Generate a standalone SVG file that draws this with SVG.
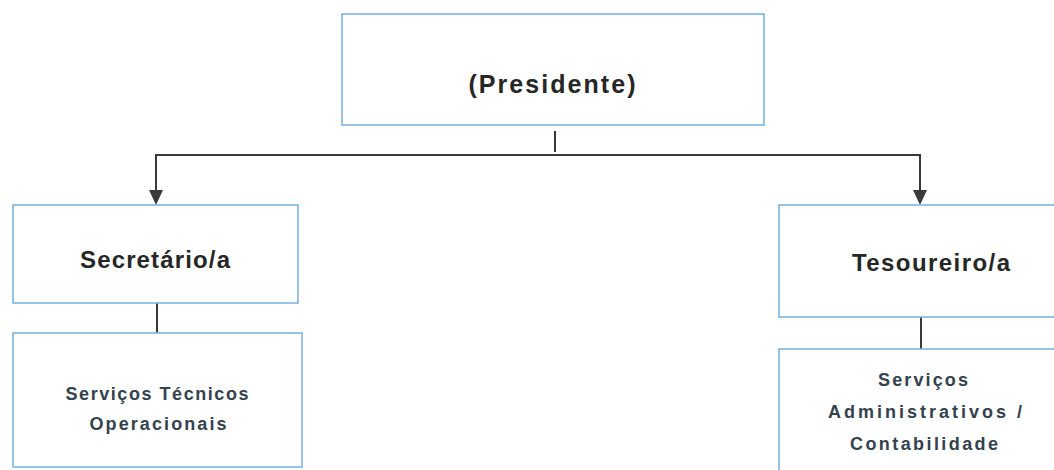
<svg xmlns="http://www.w3.org/2000/svg" width="1054" height="470" viewBox="0 0 1054 470">
<style>
.box{fill:#ffffff;stroke:#7fb3e0;stroke-width:1.6}
.t{font-family:"Liberation Sans",Arial,sans-serif;font-weight:bold;fill:#262626;text-anchor:middle}
.big{font-size:24px}
.small{font-size:18px;fill:#34414e}
.conn{fill:none;stroke:#3a3a3a;stroke-width:2}
.head{fill:#3a3a3a}
</style>
<rect width="1054" height="470" fill="#ffffff"/>
<g id="connectors">
<line class="conn" x1="555" y1="131" x2="555" y2="152" stroke-width="3"/>
<path class="conn" d="M156,192 V155 H920 V192"/>
<polygon class="head" points="149,190 163,190 156,205"/>
<polygon class="head" points="913,190 927,190 920,205"/>
<line class="conn" x1="157" y1="303" x2="157" y2="333"/>
<line class="conn" x1="921" y1="317" x2="921" y2="349"/>
</g>
<g id="presidente">
<rect class="box" x="342" y="14" width="422" height="111"/>
<text class="t" x="552" y="93" font-size="25" textLength="167" lengthAdjust="spacing">(Presidente)</text>
</g>
<g id="secretario">
<rect class="box" x="13" y="205" width="285" height="98"/>
<text class="t big" x="155" y="268" textLength="150" lengthAdjust="spacing">Secretário/a</text>
</g>
<g id="servicos-tecnicos">
<rect class="box" x="13" y="333" width="289" height="134"/>
<text class="t small" x="157" y="400" textLength="183" lengthAdjust="spacing">Serviços Técnicos</text>
<text class="t small" x="158" y="430" textLength="137" lengthAdjust="spacing">Operacionais</text>
</g>
<g id="tesoureiro">
<rect class="box" x="779" y="205" width="300" height="112"/>
<text class="t big" x="931" y="271" textLength="158" lengthAdjust="spacing">Tesoureiro/a</text>
</g>
<g id="servicos-administrativos">
<rect class="box" x="779" y="349" width="300" height="140"/>
<text class="t small" x="923" y="386" textLength="90" lengthAdjust="spacing">Serviços</text>
<text class="t small" x="925" y="418" textLength="194" lengthAdjust="spacing">Administrativos /</text>
<text class="t small" x="924" y="450" textLength="148" lengthAdjust="spacing">Contabilidade</text>
</g>
</svg>
